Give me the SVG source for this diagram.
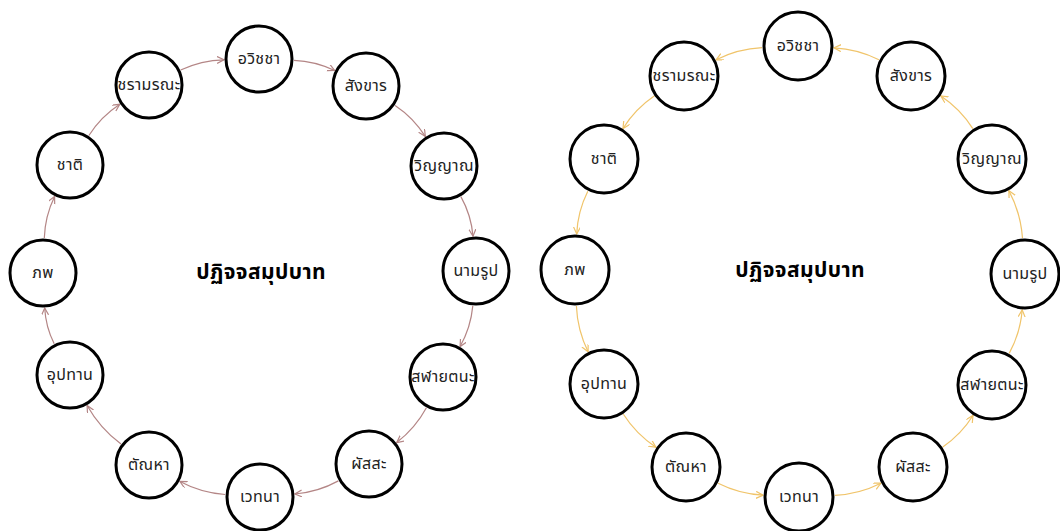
<svg xmlns="http://www.w3.org/2000/svg" width="1060" height="531" viewBox="0 0 1060 531">
<style>
.nd circle{fill:#fff;stroke:#000;stroke-width:3}
.nd text{font-family:"Noto Sans Thai","Noto Sans","DejaVu Sans",sans-serif;font-size:16px;letter-spacing:0.3px;fill:#222;text-anchor:middle;dominant-baseline:central}
.title{font-family:"Noto Sans Thai","Noto Sans","DejaVu Sans",sans-serif;font-size:21px;font-weight:bold;letter-spacing:0.4px;fill:#000;text-anchor:middle;dominant-baseline:central}
.el path{fill:none;stroke:#b48686;stroke-width:1.2;marker-end:url(#ahL)}
.er path{fill:none;stroke:#f0c46a;stroke-width:1.2;marker-end:url(#ahR)}
</style>
<defs>
<marker id="ahL" markerWidth="9" markerHeight="9" refX="7" refY="3.5" orient="auto" markerUnits="userSpaceOnUse"><path d="M0,0 L7,3.5 L0,7" fill="none" stroke="#b48686" stroke-width="1.2"/></marker>
<marker id="ahR" markerWidth="9" markerHeight="9" refX="7" refY="3.5" orient="auto" markerUnits="userSpaceOnUse"><path d="M0,0 L7,3.5 L0,7" fill="none" stroke="#f0c46a" stroke-width="1.2"/></marker>
</defs>
<rect width="1060" height="531" fill="#fff"/>
<g id="connectors">
<g class="el">
<path d="M294,60.3 Q315.4,61.1 334.6,70.5"/>
<path d="M395.1,105.4 Q413.5,117.7 425.3,136.4"/>
<path d="M460.9,196.6 Q471.2,215.1 473,236.2"/>
<path d="M472.8,305.9 Q470.8,327.5 460.1,346.5"/>
<path d="M426.4,407.8 Q415.2,428.4 396.7,442.6"/>
<path d="M338.4,480.9 Q318,492.1 294.9,494"/>
<path d="M225.1,494.5 Q201.1,492.8 179.9,481.5"/>
<path d="M121,444.1 Q100,428.4 87.1,405.5"/>
<path d="M54.2,343.8 Q45.7,326.9 44.7,308"/>
<path d="M44.3,238 Q45,216.1 54.6,196.4"/>
<path d="M88.9,135.5 Q101,116.6 119.8,104.3"/>
<path d="M180.6,70 Q201.2,60.3 224,59.8"/>
</g>
<g class="er">
<path d="M762.1,47.7 Q737.8,48.9 716.1,59.8"/>
<path d="M654.2,96.1 Q635.2,109 623,128.5"/>
<path d="M587.8,191.2 Q577.7,211.4 576.7,234"/>
<path d="M576.4,306 Q577.4,330.1 588.1,351.7"/>
<path d="M623.4,414.3 Q636.2,434.2 655.9,447.2"/>
<path d="M718.1,483.3 Q739.3,494 763,495.2"/>
<path d="M834.9,495.3 Q859.2,494.1 880.9,483.2"/>
<path d="M942.8,446.9 Q961.2,434.4 973,415.5"/>
<path d="M1009.2,353.4 Q1020.3,333 1022.2,309.9"/>
<path d="M1022.5,238.1 Q1020.7,213 1008.9,190.8"/>
<path d="M972.8,128.6 Q960.3,108.9 940.9,96"/>
<path d="M878.9,59.7 Q857.7,49 834,47.8"/>
</g>
</g>
<text id="title-left" class="title" x="261" y="272">ปฏิจจสมุปบาท</text>
<text id="title-right" class="title" x="800" y="270">ปฏิจจสมุปบาท</text>
<g id="L-avijja" class="nd"><circle cx="259" cy="59" r="33"/><text x="259" y="59">อวิชชา</text></g>
<g id="L-sankhara" class="nd"><circle cx="366" cy="86" r="33"/><text x="366" y="86">สังขาร</text></g>
<g id="L-vinnana" class="nd"><circle cx="444" cy="166" r="33"/><text x="444" y="166">วิญญาณ</text></g>
<g id="L-namarupa" class="nd"><circle cx="476" cy="271" r="33"/><text x="476" y="271">นามรูป</text></g>
<g id="L-salayatana" class="nd"><circle cx="443" cy="377" r="33"/><text x="443" y="377">สฬายตนะ</text></g>
<g id="L-phassa" class="nd"><circle cx="369" cy="464" r="33"/><text x="369" y="464">ผัสสะ</text></g>
<g id="L-vedana" class="nd"><circle cx="260" cy="497" r="33"/><text x="260" y="497">เวทนา</text></g>
<g id="L-tanha" class="nd"><circle cx="149" cy="465" r="33"/><text x="149" y="465">ตัณหา</text></g>
<g id="L-upadana" class="nd"><circle cx="70" cy="375" r="33"/><text x="70" y="375">อุปทาน</text></g>
<g id="L-bhava" class="nd"><circle cx="43" cy="273" r="33"/><text x="43" y="273">ภพ</text></g>
<g id="L-jati" class="nd"><circle cx="70" cy="165" r="33"/><text x="70" y="165">ชาติ</text></g>
<g id="L-jaramarana" class="nd"><circle cx="149" cy="85" r="33"/><text x="149" y="85">ชรามรณะ</text></g>
<g id="R-avijja" class="nd"><circle cx="798" cy="46" r="34"/><text x="798" y="46">อวิชชา</text></g>
<g id="R-sankhara" class="nd"><circle cx="911" cy="76" r="34"/><text x="911" y="76">สังขาร</text></g>
<g id="R-vinnana" class="nd"><circle cx="992" cy="159" r="34"/><text x="992" y="159">วิญญาณ</text></g>
<g id="R-namarupa" class="nd"><circle cx="1025" cy="274" r="34"/><text x="1025" y="274">นามรูป</text></g>
<g id="R-salayatana" class="nd"><circle cx="992" cy="385" r="34"/><text x="992" y="385">สฬายตนะ</text></g>
<g id="R-phassa" class="nd"><circle cx="913" cy="467" r="34"/><text x="913" y="467">ผัสสะ</text></g>
<g id="R-vedana" class="nd"><circle cx="799" cy="497" r="34"/><text x="799" y="497">เวทนา</text></g>
<g id="R-tanha" class="nd"><circle cx="686" cy="467" r="34"/><text x="686" y="467">ตัณหา</text></g>
<g id="R-upadana" class="nd"><circle cx="604" cy="384" r="34"/><text x="604" y="384">อุปทาน</text></g>
<g id="R-bhava" class="nd"><circle cx="575" cy="270" r="34"/><text x="575" y="270">ภพ</text></g>
<g id="R-jati" class="nd"><circle cx="604" cy="159" r="34"/><text x="604" y="159">ชาติ</text></g>
<g id="R-jaramarana" class="nd"><circle cx="684" cy="76" r="34"/><text x="684" y="76">ชรามรณะ</text></g>
</svg>
